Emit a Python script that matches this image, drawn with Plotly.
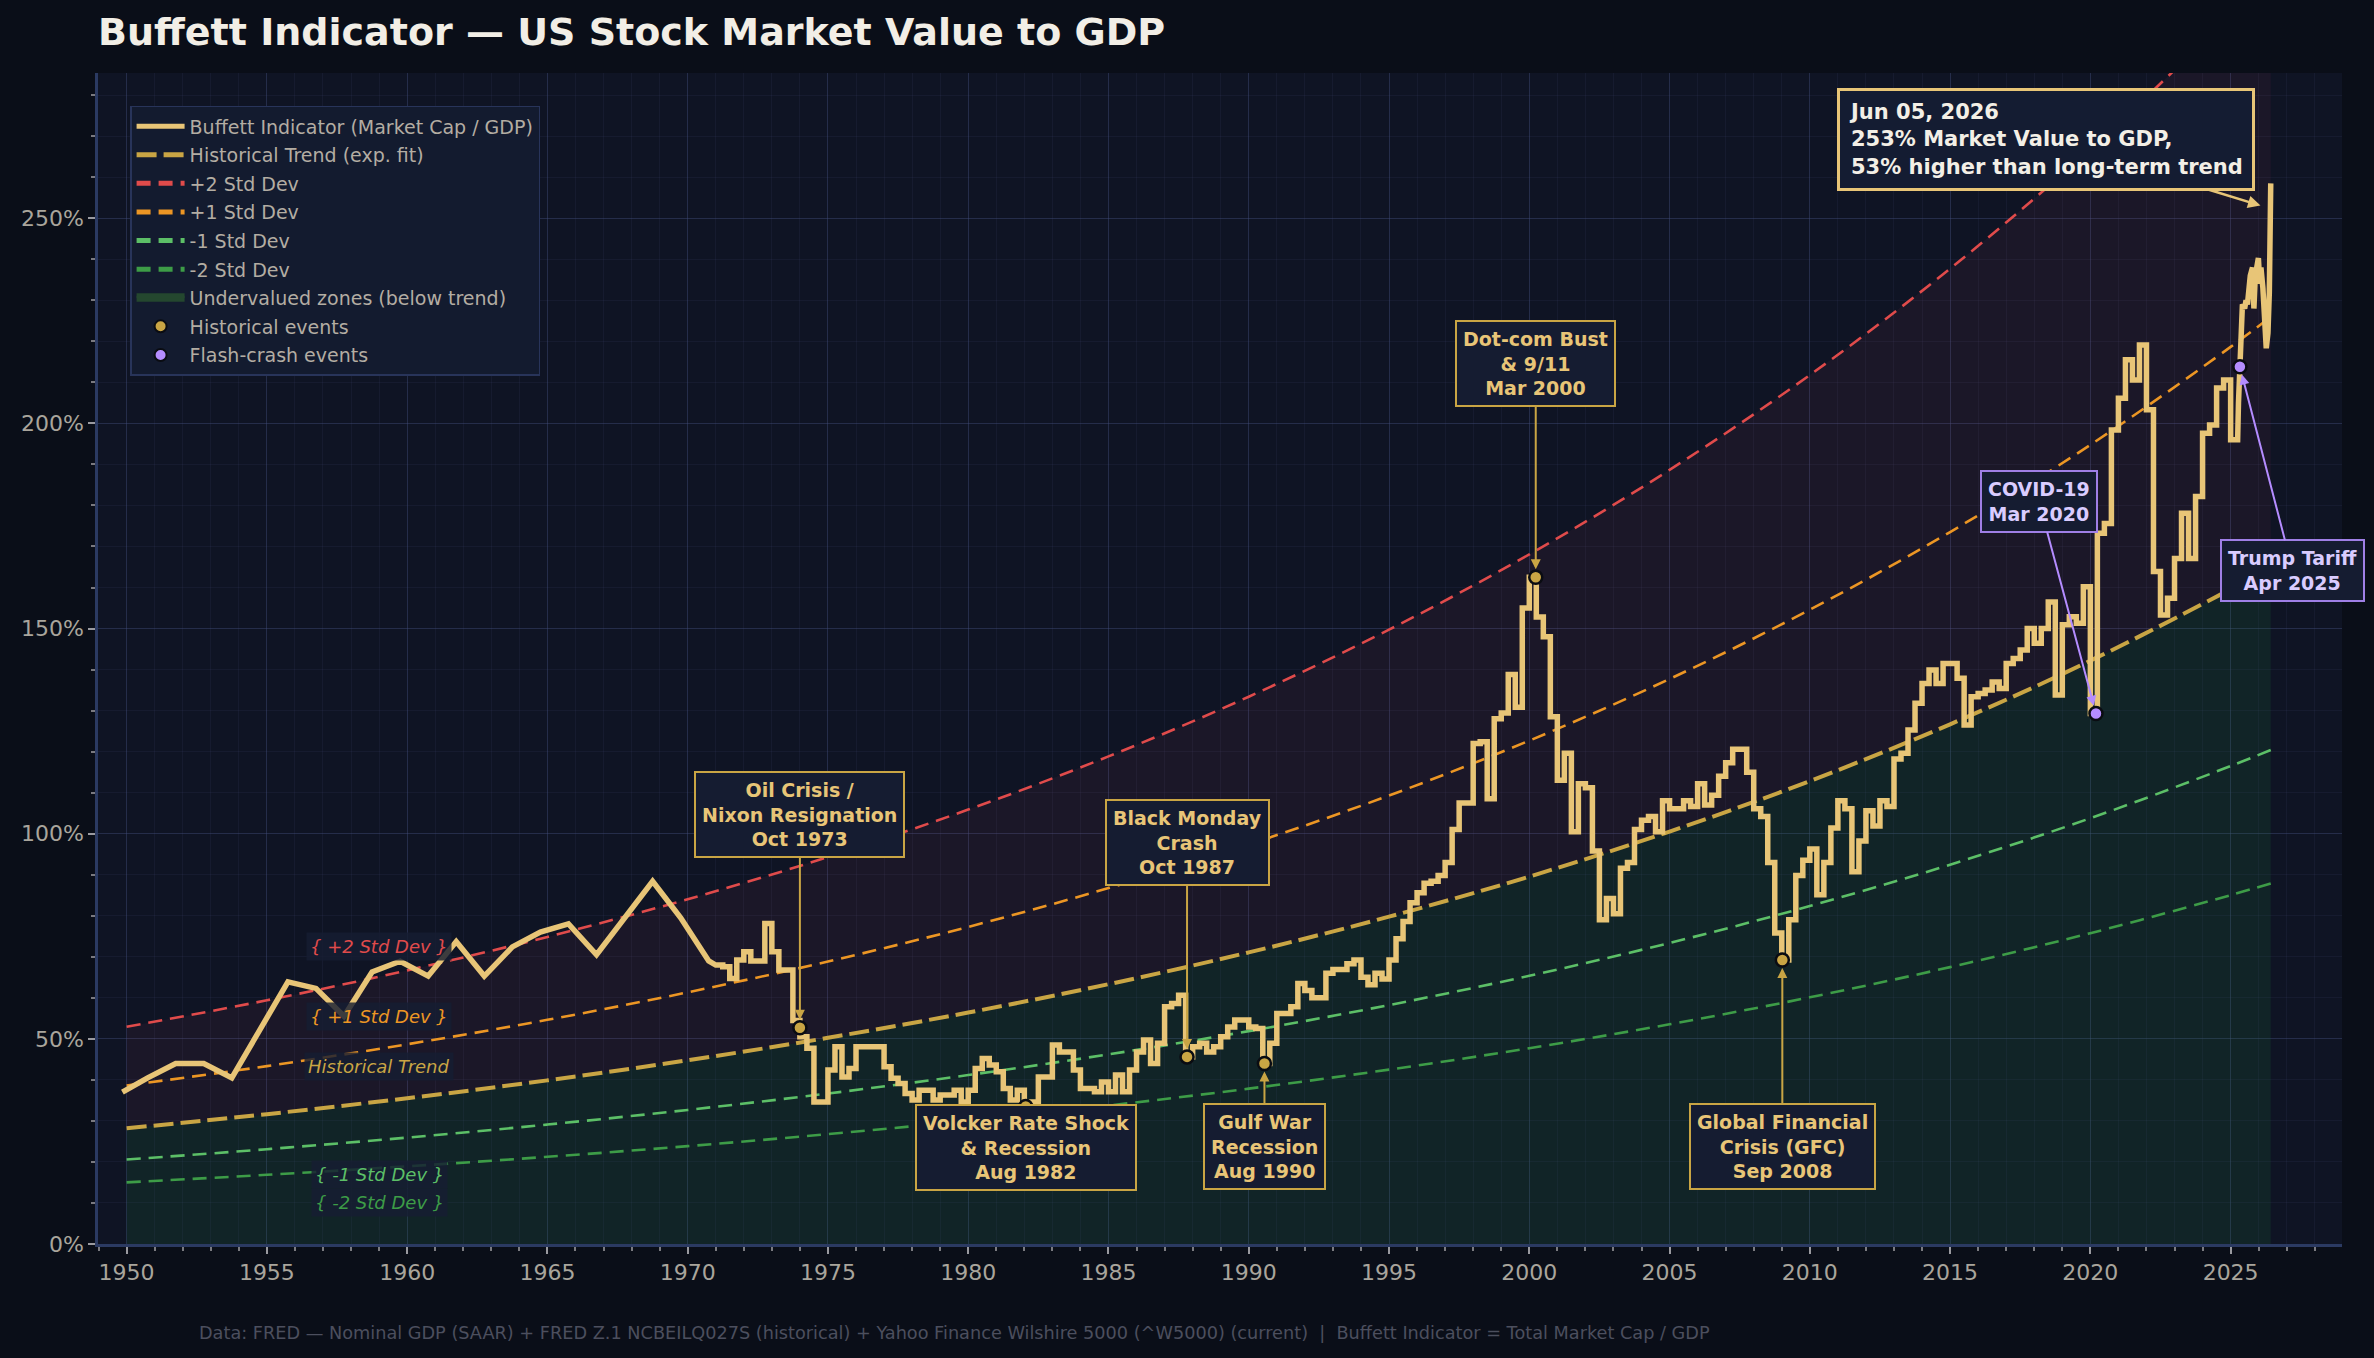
import plotly.graph_objects as go

# ---------------- DATA ----------------
# Annual points (pre-1971), decimal years
annual_years = [1949.85, 1950.75, 1951.75, 1952.75, 1953.75, 1954.75, 1955.75, 1956.75,
                1957.75, 1958.75, 1959.75, 1960.75, 1961.75, 1962.75, 1963.75, 1964.75,
                1965.75, 1966.75, 1967.75, 1968.75, 1969.75, 1970.75]
annual_values = [37.0, 40.5, 44.0, 44.0, 40.5, 52.0, 63.9, 62.3,
                 55.5, 66.3, 68.9, 65.3, 73.7, 65.3, 72.4, 76.0,
                 78.0, 70.5, 79.3, 88.4, 79.5, 69.0]

# Quarterly values (held for the quarter), starting 1971 Q1 through 2025 Q1
quarter_start = 1971.0
quarterly_values = [
    68.0, 67.6, 64.7, 69.2,      # 1971
    71.2, 69.0, 69.0, 78.1,      # 1972
    71.2, 66.8, 66.8, 54.5,      # 1973
    50.5, 47.7, 34.6, 34.6,      # 1974
    42.4, 48.1, 40.7, 42.8,      # 1975
    48.1, 48.1, 48.1, 48.1,      # 1976
    43.2, 40.4, 39.1, 36.7,      # 1977
    35.1, 37.5, 37.5, 35.1,      # 1978
    36.3, 36.3, 37.5, 34.6,      # 1979
    37.5, 42.8, 45.2, 43.6,      # 1980
    42.0, 37.9, 35.1, 37.5,      # 1981
    33.5, 34.6, 40.7, 40.7,      # 1982
    48.5, 46.8, 46.8, 42.4,      # 1983
    37.9, 37.9, 37.1, 39.5,      # 1984
    37.1, 41.2, 37.1, 42.4,      # 1985
    46.8, 49.7, 44.0, 48.9,      # 1986
    57.8, 58.6, 60.6, 45.6,      # 1987
    48.1, 48.9, 46.8, 48.1,      # 1988
    50.5, 52.9, 54.6, 54.6,      # 1989
    52.9, 52.5, 44.0, 48.9,      # 1990
    56.2, 56.2, 57.8, 63.5,      # 1991
    61.8, 60.0, 60.0, 66.0,      # 1992
    66.9, 66.9, 68.3, 69.2,      # 1993
    65.0, 63.2, 66.0, 64.6,      # 1994
    69.2, 74.4, 78.6, 83.2,      # 1995
    85.6, 87.9, 88.4, 89.8,      # 1996
    93.0, 101.0, 107.5, 107.5,   # 1997
    122.0, 122.4, 108.5, 128.0,  # 1998
    129.4, 138.8, 130.8, 155.0,  # 1999
    162.5, 152.8, 148.0, 128.5,  # 2000
    113.0, 119.6, 100.5, 112.2,  # 2001
    111.2, 95.8, 79.0, 84.2,     # 2002
    80.5, 91.6, 93.0, 101.0,     # 2003
    103.3, 104.2, 100.5, 108.0,  # 2004
    106.1, 106.1, 108.0, 106.6,  # 2005
    112.2, 107.0, 109.4, 114.0,  # 2006
    117.3, 120.6, 120.6, 115.0,  # 2007
    106.1, 104.2, 93.0, 75.8,    # 2008
    69.2, 79.0, 89.8, 93.5,      # 2009
    96.3, 85.1, 93.0, 101.4,     # 2010
    108.0, 106.1, 90.7, 98.2,    # 2011
    105.6, 101.9, 108.0, 106.6,  # 2012
    118.2, 119.6, 125.3, 131.8,  # 2013
    136.6, 139.9, 136.6, 141.5,  # 2014
    141.5, 137.9, 126.5, 133.4,  # 2015
    134.2, 135.0, 137.0, 135.4,  # 2016
    141.5, 142.7, 144.8, 150.0,  # 2017
    146.4, 150.0, 156.5, 133.8,  # 2018
    150.9, 152.9, 151.3, 160.2,  # 2019
    129.3, 173.2, 175.6, 198.4,  # 2020
    206.1, 215.5, 210.6, 219.1,  # 2021
    203.3, 163.9, 153.3, 157.4,  # 2022
    167.1, 178.1, 167.1, 182.2,  # 2023
    197.6, 199.6, 208.6, 210.6,  # 2024
    196.0,                       # 2025 Q1
]

# Daily (Wilshire-based) recent points
daily_years = [2025.28, 2025.33, 2025.38, 2025.42, 2025.50, 2025.55, 2025.60, 2025.65,
               2025.70, 2025.78, 2025.83, 2025.88, 2025.95, 2025.99, 2026.04, 2026.08,
               2026.15, 2026.22, 2026.27, 2026.33, 2026.38, 2026.43]
daily_values = [205.0, 213.8, 224.0, 229.0, 228.0, 230.0, 229.0, 234.0,
                236.0, 238.0, 228.0, 236.0, 239.0, 240.3, 234.0, 238.0,
                233.0, 221.0, 218.3, 222.0, 232.0, 258.5]

# Historical trend (exp. fit) read at sample years, and the band factor (one std dev in log space)
trend_years = [1950, 1955, 1960, 1965, 1970, 1975, 1980, 1985, 1990, 1995,
               2000, 2005, 2010, 2015, 2020, 2025, 2026.43]
trend_values = [28.2, 31.65, 35.53, 39.88, 44.77, 50.25, 56.41, 63.32, 71.07, 79.78,
                89.55, 100.52, 112.84, 126.66, 142.17, 159.59, 164.95]
band_factor = 1.37

# Events
hist_event_labels = ["Oil Crisis /<br>Nixon Resignation<br>Oct 1973",
                     "Volcker Rate Shock<br>& Recession<br>Aug 1982",
                     "Black Monday<br>Crash<br>Oct 1987",
                     "Gulf War<br>Recession<br>Aug 1990",
                     "Dot-com Bust<br>& 9/11<br>Mar 2000",
                     "Global Financial<br>Crisis (GFC)<br>Sep 2008"]
hist_event_x = [1974.0, 1982.05, 1987.8, 1990.56, 2000.23, 2009.02]
hist_event_y = [52.7, 33.5, 45.6, 44.0, 162.5, 69.2]

flash_event_labels = ["COVID-19<br>Mar 2020", "Trump Tariff<br>Apr 2025"]
flash_event_x = [2020.2, 2025.33]
flash_event_y = [129.3, 213.8]

current_label = "Jun 05, 2026<br>253% Market Value to GDP,<br>53% higher than long-term trend"
current_x = 2026.2
current_y = 252.8

x_ticks = [1950, 1955, 1960, 1965, 1970, 1975, 1980, 1985, 1990, 1995, 2000, 2005, 2010, 2015, 2020, 2025]
y_ticks = [0, 50, 100, 150, 200, 250]
y_tick_labels = ["0%", "50%", "100%", "150%", "200%", "250%"]

# ---------------- BUILD ----------------
FONT = "DejaVu Sans"
PAPER = "#0a0e18"
PLOT = "#0f1424"
GOLD = "#e8c577"
TREND = "#c9a544"
RED = "#e04b4b"
ORANGE = "#ec9624"
GREEN1 = "#5cbf67"
GREEN2 = "#3d9c47"
PURPLE = "#b48cff"
ZONE = "#24472f"

# step rendering of quarterly data
line_x = list(annual_years)
line_y = list(annual_values)
for i, v in enumerate(quarterly_values):
    t = quarter_start + 0.25 * i
    line_x += [t, t + 0.25]
    line_y += [v, v]
line_x += daily_years
line_y += daily_values

bands = {k: [v * band_factor ** k for v in trend_values] for k in (2, 1, -1, -2)}

fig = go.Figure()

# fills
fig.add_trace(go.Scatter(x=trend_years, y=trend_values, mode="lines",
                         line=dict(width=0, shape="spline"), fill="tozeroy",
                         fillcolor="rgba(32,125,62,0.15)", showlegend=False, hoverinfo="skip"))
fig.add_trace(go.Scatter(x=trend_years, y=bands[2], mode="lines",
                         line=dict(width=0, shape="spline"), fill="tonexty",
                         fillcolor="rgba(205,70,95,0.07)", showlegend=False, hoverinfo="skip"))

band_style = [(2, "+2 Std Dev", RED, 3), (1, "+1 Std Dev", ORANGE, 4),
              (-1, "-1 Std Dev", GREEN1, 5), (-2, "-2 Std Dev", GREEN2, 6)]
for k, name, col, rank in band_style:
    fig.add_trace(go.Scatter(x=trend_years, y=bands[k], mode="lines", name=name,
                             line=dict(color=col, width=2.6, dash="14px,8px", shape="spline"),
                             legendrank=rank, legendgroup=name))

fig.add_trace(go.Scatter(x=trend_years, y=trend_values, mode="lines",
                         name="Historical Trend (exp. fit)",
                         line=dict(color=TREND, width=4, dash="20px,7px", shape="spline"),
                         legendrank=2, legendgroup="trend"))

fig.add_trace(go.Scatter(x=line_x, y=line_y, mode="lines",
                         name="Buffett Indicator (Market Cap / GDP)",
                         line=dict(color=GOLD, width=5.5), legendrank=1, legendgroup="main"))

# legend-only swatch for zones (drawn outside the visible range)
fig.add_trace(go.Scatter(x=[1900, 1901, 1901], y=[-50, -50, -49], mode="lines",
                         line=dict(color=ZONE, width=10), fill="toself", fillcolor=ZONE,
                         name="Undervalued zones (below trend)",
                         legendrank=7, legendgroup="zones", hoverinfo="skip"))

fig.add_trace(go.Scatter(x=hist_event_x, y=hist_event_y, mode="markers", name="Historical events",
                         marker=dict(color=TREND, size=13, line=dict(color="#0a0c12", width=2.5)),
                         legendrank=8, legendgroup="hist"))
fig.add_trace(go.Scatter(x=flash_event_x, y=flash_event_y, mode="markers", name="Flash-crash events",
                         marker=dict(color=PURPLE, size=13, line=dict(color="#0a0c12", width=2.5)),
                         legendrank=9, legendgroup="flash"))

annotations = []
# historical event boxes: (ax, ay) pixel offsets of the box from the point
hist_offsets = [(0, -213), None, (0, -214), (0, 83), (0, -214), (0, 186)]
for lab, x, y, off in zip(hist_event_labels, hist_event_x, hist_event_y, hist_offsets):
    common = dict(text=f"<b>{lab}</b>", x=x, y=y, xref="x", yref="y",
                  font=dict(family=FONT, size=19, color=GOLD),
                  bgcolor="#151c31", bordercolor=TREND, borderwidth=2, borderpad=6, align="center")
    if off is None:
        annotations.append(dict(**common, showarrow=False, xanchor="center", yanchor="top", yshift=3))
    else:
        annotations.append(dict(**common, showarrow=True, ax=off[0], ay=off[1],
                                arrowcolor=TREND, arrowwidth=2, arrowhead=2, arrowsize=1,
                                standoff=8))

flash_offsets = [(-57, -212), (53, 204)]
for lab, x, y, off in zip(flash_event_labels, flash_event_x, flash_event_y, flash_offsets):
    annotations.append(dict(text=f"<b>{lab}</b>", x=x, y=y, xref="x", yref="y",
                            font=dict(family=FONT, size=19, color="#d9ccff"),
                            bgcolor="#151c31", bordercolor="#9f7fe6", borderwidth=2, borderpad=6,
                            showarrow=True, ax=off[0], ay=off[1], arrowcolor=PURPLE,
                            arrowwidth=2, arrowhead=2, arrowsize=1, standoff=8))

annotations.append(dict(text=f"<b>{current_label}</b>", x=current_x, y=current_y, xref="x", yref="y",
                        font=dict(family=FONT, size=21, color="#f3efe6"), align="left",
                        bgcolor="#141c32", bordercolor=GOLD, borderwidth=3, borderpad=9,
                        showarrow=True, ax=-218, ay=-67, arrowcolor=GOLD, arrowwidth=2.5,
                        arrowhead=2, arrowsize=1, standoff=4))

# band labels
band_labels = [("{ +2 Std Dev }", 72.4, RED), ("{ +1 Std Dev }", 55.5, ORANGE),
               ("Historical Trend", 43.2, TREND), ("{ -1 Std Dev }", 16.9, GREEN1),
               ("{ -2 Std Dev }", 10.1, GREEN2)]
for txt, yv, col in band_labels:
    annotations.append(dict(text=f"<i>{txt}</i>", x=1959.0, y=yv, xref="x", yref="y",
                            showarrow=False, font=dict(family=FONT, size=18, color=col),
                            bgcolor="rgba(22,29,50,0.82)", borderpad=3))

# footer
annotations.append(dict(text="Data: FRED \u2014 Nominal GDP (SAAR) + FRED Z.1 NCBEILQ027S (historical) + "
                             "Yahoo Finance Wilshire 5000 (^W5000) (current)  |  Buffett Indicator = Total Market Cap / GDP",
                        x=0.044, y=-0.076, xref="paper", yref="paper", xanchor="left", yanchor="middle",
                        showarrow=False, font=dict(family=FONT, size=17.7, color="#4c4f5e")))

fig.update_layout(
    width=2374, height=1358,
    paper_bgcolor=PAPER, plot_bgcolor=PLOT,
    margin=dict(l=98, r=32, t=73, b=114),
    title=dict(text="<b>Buffett Indicator \u2014 US Stock Market Value to GDP</b>",
               x=0.0413, xanchor="left", y=0.977, yanchor="middle",
               font=dict(family=FONT, size=38, color="#f2eee6")),
    font=dict(family=FONT),
    showlegend=True,
    legend=dict(x=0.0143, y=0.972, xanchor="left", yanchor="top",
                bgcolor="#131b2f", bordercolor="#28345a", borderwidth=1.5,
                font=dict(family=FONT, size=19, color="#b3ada3"),
                tracegroupgap=0.9, itemsizing="constant", itemwidth=48),
    annotations=annotations,
)

fig.update_xaxes(range=[1948.98, 2028.97], tickvals=x_ticks, tickformat="d",
                 showgrid=True, gridcolor="rgba(70,82,130,0.33)", gridwidth=1,
                 zeroline=False, showline=True, linecolor="#2b3a62", linewidth=2.5,
                 ticks="outside", ticklen=7, tickwidth=1.5, tickcolor="#9a9aa0",
                 tickfont=dict(family=FONT, size=22, color="#a9a59c"),
                 minor=dict(dtick=1, tick0=1950, ticks="outside", ticklen=4, tickcolor="#7a7a80",
                            showgrid=True, gridcolor="rgba(70,82,130,0.12)"))
fig.update_yaxes(range=[0, 285.4], tickvals=y_ticks, ticktext=y_tick_labels,
                 showgrid=True, gridcolor="rgba(70,82,130,0.33)", gridwidth=1,
                 zeroline=False, showline=True, linecolor="#2b3a62", linewidth=2.5,
                 ticks="outside", ticklen=7, tickwidth=1.5, tickcolor="#9a9aa0",
                 tickfont=dict(family=FONT, size=22, color="#a9a59c"),
                 minor=dict(dtick=10, tick0=0, ticks="outside", ticklen=4, tickcolor="#7a7a80",
                            showgrid=True, gridcolor="rgba(70,82,130,0.12)"))

fig.write_html("out.html")
